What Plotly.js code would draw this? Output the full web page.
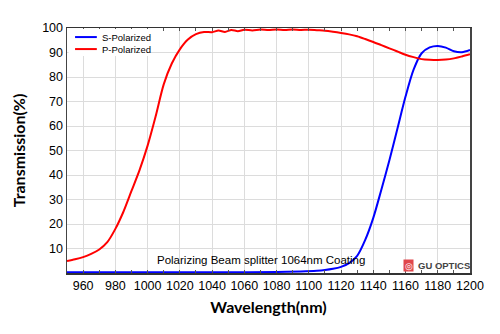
<!DOCTYPE html>
<html>
<head>
<meta charset="utf-8">
<script src="https://cdn.plot.ly/plotly-3.0.1.min.js"></script>
<style>html,body{margin:0;padding:0;background:#fff;}#chart{width:500px;height:334px;}</style>
</head>
<body>
<div id="chart"></div>
<script>
const sWavelength = [950, 1000, 1050, 1080, 1095, 1105, 1110, 1115, 1120, 1125, 1130, 1135, 1140, 1145, 1150, 1155, 1160, 1165, 1170, 1175, 1180, 1185, 1190, 1195, 1200];
const sTransmission = [0.3, 0.3, 0.3, 0.4, 0.6, 0.9, 1.2, 1.7, 2.5, 4.0, 7.0, 13.5, 22.5, 34, 46, 59, 72, 83, 89.7, 92.1, 92.7, 92.0, 90.5, 90.1, 91.0];
const pWavelength = [950, 955, 960, 965, 970, 975, 980, 985, 990, 995, 1000, 1005, 1010, 1015, 1020, 1025, 1030, 1035, 1040, 1044, 1048, 1052, 1056, 1060, 1065, 1070, 1075, 1080, 1085, 1090, 1095, 1100, 1105, 1110, 1115, 1120, 1125, 1130, 1135, 1140, 1145, 1150, 1155, 1160, 1165, 1170, 1175, 1180, 1185, 1190, 1195, 1200];
const pTransmission = [4.9, 5.6, 6.5, 7.8, 9.6, 12.6, 18.0, 25, 33.5, 42, 52, 64, 77, 85.5, 91.3, 95.3, 97.5, 98.4, 98.3, 99.0, 98.4, 99.2, 98.7, 99.3, 99.0, 99.4, 99.2, 99.4, 99.2, 99.4, 99.2, 99.3, 99.1, 98.9, 98.5, 98.0, 97.4, 96.6, 95.5, 94.3, 93.0, 91.7, 90.4, 89.1, 88.1, 87.3, 87.0, 86.9, 87.1, 87.6, 88.4, 89.3];
const xTicks = [960, 980, 1000, 1020, 1040, 1060, 1080, 1100, 1120, 1140, 1160, 1180, 1200];
const yTicks = [10, 20, 30, 40, 50, 60, 70, 80, 90, 100];
const seriesNames = ["S-Polarized", "P-Polarized"];
const seriesColors = ["#0000ff", "#ff0000"];
const noteText = "Polarizing Beam splitter 1064nm Coating";
const brandText = "GU OPTICS";

const traces = [
  {x: sWavelength, y: sTransmission, name: seriesNames[0], type: 'scatter', mode: 'lines',
   line: {color: seriesColors[0], width: 2, shape: 'spline', smoothing: 0.8}},
  {x: pWavelength, y: pTransmission, name: seriesNames[1], type: 'scatter', mode: 'lines',
   line: {color: seriesColors[1], width: 2, shape: 'spline', smoothing: 0.8}}
];

// compact legend, drawn in plot-domain fractions
const legendRows = [0.963, 0.914];
const legendShapes = [
  {type: 'rect', xref: 'x domain', yref: 'y domain', x0: 0.004, x1: 0.206, y0: 0.886, y1: 0.996,
   fillcolor: '#fff', line: {width: 0}, layer: 'above'}
].concat(seriesNames.map((n, i) => ({
  type: 'line', xref: 'x domain', yref: 'y domain', x0: 0.02, x1: 0.074, y0: legendRows[i], y1: legendRows[i],
  line: {color: seriesColors[i], width: 2}, layer: 'above'})));
const legendAnnots = seriesNames.map((n, i) => ({
  xref: 'x domain', yref: 'y domain', x: 0.081, y: legendRows[i], text: n, showarrow: false,
  xanchor: 'left', yanchor: 'middle', font: {size: 9.5, color: '#000'}}));

const layout = {
  width: 500, height: 334,
  margin: {l: 67, r: 30, t: 28, b: 61},
  paper_bgcolor: '#fff', plot_bgcolor: '#fff',
  font: {family: 'Arial, "Liberation Sans", sans-serif', color: '#000', size: 12},
  showlegend: false,
  xaxis: {range: [950, 1200], tickvals: xTicks, ticktext: xTicks.map(String),
          showgrid: true, gridcolor: '#dcdcdc', gridwidth: 1,
          showline: true, linecolor: '#333', linewidth: 1.5, mirror: 'ticks',
          ticks: 'inside', ticklen: 3, tickcolor: '#555',
          minor: {dtick: 10, ticks: 'inside', ticklen: 3, tickcolor: '#555', showgrid: false},
          zeroline: false, tickfont: {size: 12.5},
          title: {text: 'Wavelength(nm)', font: {family: 'Lato, "Open Sans", sans-serif', size: 16, weight: 'bold'}, standoff: 10}},
  yaxis: {range: [0, 100], tickvals: yTicks, ticktext: yTicks.map(String),
          showgrid: true, gridcolor: '#dcdcdc', gridwidth: 1,
          showline: true, linecolor: '#444', linewidth: 1.5, mirror: true,
          ticks: '', zeroline: false, tickfont: {size: 12.5},
          title: {text: 'Transmission(%)', font: {family: 'Lato, "Open Sans", sans-serif', size: 16, weight: 'bold'}, standoff: 12}},
  shapes: legendShapes,
  annotations: legendAnnots.concat([
    {x: 1070.5, y: 5.3, xref: 'x', yref: 'y', text: noteText, showarrow: false,
     font: {size: 11.5, color: '#000'}, xanchor: 'center', yanchor: 'middle'},
    {x: 1166.5, y: 3.2, xref: 'x', yref: 'y', text: '<b>' + brandText + '</b>', showarrow: false,
     font: {size: 9.5, color: '#444'}, xanchor: 'left', yanchor: 'middle'},
    {x: 1165.5, y: 3.2, xref: 'x', yref: 'y', text: '◎', showarrow: false,
     font: {size: 9, color: '#fff'}, bgcolor: '#e0474c', borderpad: 0.5, xanchor: 'right', yanchor: 'middle'}
  ])
};

Plotly.newPlot('chart', traces, layout, {displayModeBar: false, staticPlot: true});
</script>
</body>
</html>
